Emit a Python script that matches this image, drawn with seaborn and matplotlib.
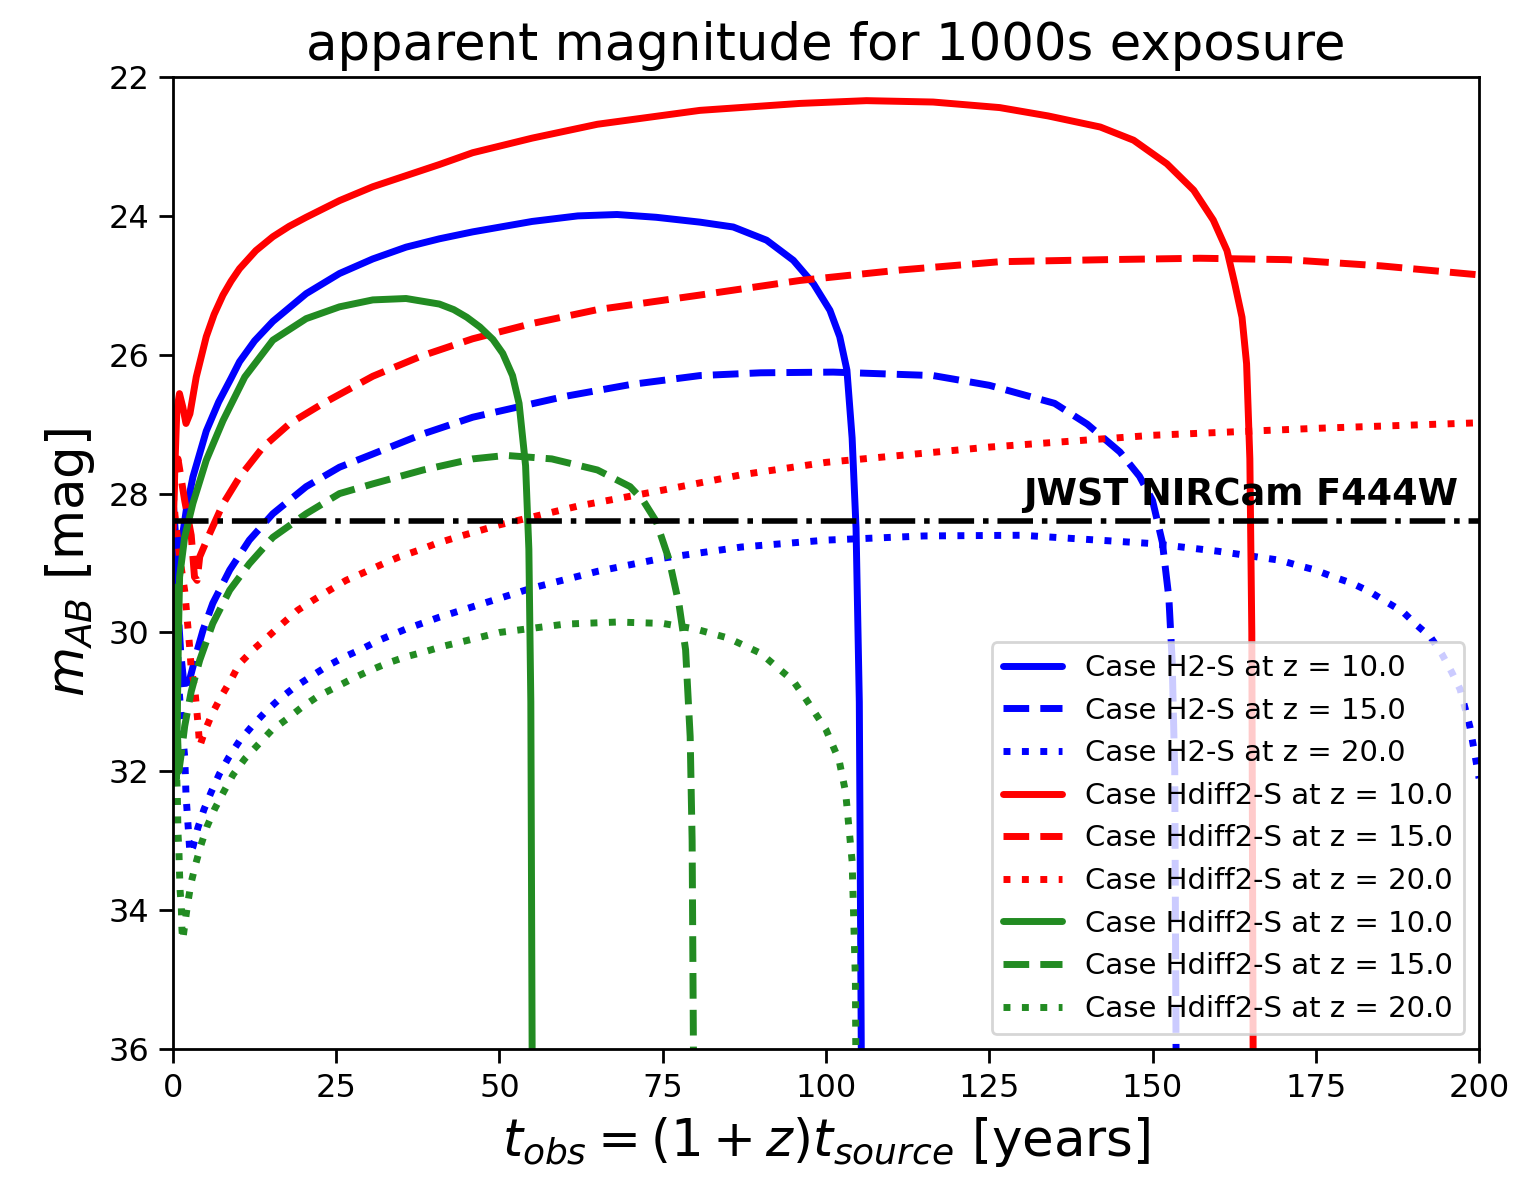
import numpy as np
import pandas as pd
import matplotlib
matplotlib.use("Agg")
import matplotlib.pyplot as plt
import seaborn as sns

# ---------------- data ----------------
# Case H2-S, z = 10 (blue solid)
t_h2_z10 = [0.1, 0.4, 0.6, 0.8, 1.28, 2.04, 3.06, 5.1, 7.0, 8.9, 10.2, 12.5, 15.3, 20.4, 25.5, 30.6,
            35.7, 40.8, 45.9, 55, 62, 68, 74, 80.7, 85.8, 90.9, 95.0, 98.1, 100.6, 102.1, 103.2, 104.0,
            104.6, 105.1, 105.4, 105.5]
m_h2_z10 = [28.2, 28.6, 29.4, 29.2, 28.72, 28.24, 27.76, 27.1, 26.68, 26.34, 26.1, 25.8, 25.52, 25.12,
            24.83, 24.62, 24.45, 24.33, 24.23, 24.08, 24.0, 23.98, 24.02, 24.09, 24.16, 24.35, 24.64,
            24.98, 25.36, 25.74, 26.22, 27.2, 28.5, 31.0, 36.0, 40.0]
# Case H2-S, z = 15 (blue dashed)
t_h2_z15 = [0.05, 0.4, 0.8, 1.2, 1.8, 2.5, 3.6, 4.6, 6.1, 8.7, 11.7, 15.3, 20.4, 25.5, 30.6, 38.3, 45.9,
            52, 60, 70, 80.7, 90, 101.1, 116.4, 125, 135, 140, 145, 148, 150, 151.5, 152.5, 153.0,
            153.4, 153.6, 153.7]
m_h2_z15 = [28.3, 29.0, 29.7, 30.3, 30.85, 30.7, 30.3, 29.97, 29.58, 29.1, 28.67, 28.29, 27.9, 27.62,
            27.43, 27.14, 26.9, 26.77, 26.6, 26.43, 26.3, 26.26, 26.25, 26.3, 26.44, 26.7, 27.0, 27.4,
            27.75, 28.1, 28.7, 29.5, 30.4, 32.0, 36.0, 40.0]
# Case H2-S, z = 20 (blue dotted)
t_h2_z20 = [0.05, 0.3, 0.6, 1.0, 1.5, 1.8, 1.9, 2.0, 2.2, 2.4, 2.6, 3.06, 3.83, 4.75, 5.9, 7.1, 8.6, 10.2,
            12.1, 14.2, 16.3, 18.6, 21.2, 23.7, 26.3, 29.1, 31.6, 35.7, 40.8, 45.9, 55, 65, 75, 87, 100,
            115, 130, 150, 160, 169.5, 172.1, 174.9, 177.7, 180.5, 183.2, 185.8, 188.3, 190.4, 192.6,
            194.3, 195.8, 197.1, 197.8, 198.6, 199.1, 199.6, 200]
m_h2_z20 = [28.5, 29.2, 30.0, 30.9, 31.5, 31.79, 32.05, 32.34, 32.62, 32.89, 33.18, 33.09, 32.81, 32.55,
            32.29, 32.04, 31.79, 31.56, 31.35, 31.14, 30.96, 30.79, 30.63, 30.48, 30.35, 30.23, 30.11,
            29.95, 29.78, 29.63, 29.36, 29.12, 28.93, 28.77, 28.67, 28.61, 28.6, 28.72, 28.83, 28.96,
            29.03, 29.1, 29.2, 29.29, 29.41, 29.56, 29.7, 29.89, 30.07, 30.31, 30.57, 30.82, 31.07,
            31.36, 31.62, 31.89, 32.1]
# Case Hdiff2-S (red), z = 10 (red solid)
t_hd_z10 = [0.05, 0.3, 0.6, 1.0, 1.5, 2.0, 2.6, 3.57, 5.1, 6.3, 7.66, 8.9, 10.2, 12.7, 15.3, 17.8, 20.4,
            25.5, 30.6, 35.7, 40.8, 45.9, 55, 65, 80.7, 96.0, 106.2, 116.4, 126.6, 134, 142.0, 147.1,
            152.2, 156.3, 159.3, 161.4, 162.6, 163.7, 164.4, 164.9, 165.2, 165.4, 165.5]
m_hd_z10 = [28.5, 27.6, 26.8, 26.56, 26.75, 26.99, 26.85, 26.32, 25.74, 25.42, 25.14, 24.94, 24.76, 24.5,
            24.3, 24.15, 24.02, 23.78, 23.58, 23.42, 23.26, 23.09, 22.88, 22.68, 22.48, 22.38, 22.34,
            22.36, 22.44, 22.56, 22.72, 22.91, 23.25, 23.63, 24.06, 24.5, 24.98, 25.46, 26.13, 27.5,
            30.0, 36.0, 40.0]
# Case Hdiff2-S (red), z = 15 (red dashed)
t_hd_z15 = [0.05, 0.3, 0.77, 1.8, 2.8, 3.3, 3.7, 4.1, 5.6, 7.66, 10.2, 13.8, 17.9, 23.0, 30.6, 38, 45.9,
            55, 65, 80.7, 96.0, 111.3, 126.6, 143, 157.3, 170.6, 185, 200]
m_hd_z15 = [28.2, 27.7, 27.5, 28.1, 28.6, 29.2, 29.25, 28.91, 28.58, 28.15, 27.76, 27.33, 26.99, 26.7,
            26.31, 26.02, 25.77, 25.55, 25.35, 25.14, 24.93, 24.78, 24.66, 24.63, 24.61, 24.63, 24.72,
            24.85]
# Case Hdiff2-S (red), z = 20 (red dotted)
t_hd_z20 = [0.05, 0.3, 1.0, 1.8, 2.55, 2.8, 3.3, 3.6, 3.85, 4.1, 4.85, 6.0, 7.4, 8.9, 10.2, 12.5, 14.8,
            16.8, 19.1, 21.4, 24.0, 26.5, 29.4, 32.2, 34.7, 37.5, 40.3, 43.4, 50, 62, 75, 87, 100, 125,
            150, 175, 200]
m_hd_z20 = [28.0, 28.3, 28.9, 29.4, 30.2, 30.52, 30.78, 31.07, 31.33, 31.64, 31.43, 31.17, 30.92, 30.68,
            30.45, 30.23, 30.04, 29.87, 29.68, 29.54, 29.39, 29.25, 29.13, 29.01, 28.91, 28.82, 28.72,
            28.63, 28.45, 28.18, 27.95, 27.73, 27.55, 27.33, 27.16, 27.06, 26.98]
# Case Hdiff2-S (green), z = 10 (green solid)
t_gr_z10 = [0.05, 0.2, 0.4, 0.55, 0.7, 0.85, 1.02, 1.79, 3.06, 5.1, 7.66, 11.0, 15.3, 20.4, 25.5, 30.6,
            35.7, 40.8, 43, 45, 47, 49, 50.5, 52, 53, 54, 54.5, 54.8, 55.0, 55.1]
m_gr_z10 = [29.6, 30.8, 31.8, 32.1, 31.0, 30.0, 29.2, 28.63, 28.14, 27.52, 26.95, 26.32, 25.79, 25.48,
            25.31, 25.21, 25.19, 25.27, 25.35, 25.46, 25.6, 25.78, 25.98, 26.3, 26.7, 27.6, 28.8, 31.0,
            36.0, 40.0]
# Case Hdiff2-S (green), z = 15 (green dashed)
t_gr_z15 = [0.05, 0.3, 0.6, 0.9, 1.2, 1.8, 2.8, 4.1, 6.1, 8.7, 11.7, 15.3, 20.4, 25.5, 30.6, 38.3, 45.9,
            51, 58, 65, 70, 72, 74, 76, 77.5, 78.5, 79.2, 79.5, 79.7, 79.8]
m_gr_z15 = [29.3, 30.3, 31.2, 32.0, 31.8, 31.35, 30.85, 30.4, 29.87, 29.39, 29.01, 28.63, 28.29, 28.0,
            27.86, 27.66, 27.5, 27.45, 27.5, 27.66, 27.9, 28.1, 28.4, 28.96, 29.6, 30.25, 31.5, 33.0,
            36.0, 40.0]
# Case Hdiff2-S (green), z = 20 (green dotted)
t_gr_z20 = [0.05, 0.3, 0.5, 0.66, 0.77, 0.92, 1.0, 1.1, 1.28, 1.38, 1.5, 1.9, 2.3, 2.8, 3.5, 4.3, 5.2,
            6.4, 7.8, 9.2, 11.0, 13.0, 15.1, 17.4, 19.7, 22.2, 24.9, 27.6, 30.1, 32.9, 35.7, 38.5, 41.3,
            44.4, 50, 60, 68, 75, 80, 85, 90, 95, 97, 100, 102, 103, 104, 104.5, 104.8]
m_gr_z20 = [30.0, 31.0, 31.9, 32.3, 32.88, 33.16, 33.44, 33.72, 33.95, 34.28, 34.43, 34.15, 33.88, 33.6,
            33.33, 33.06, 32.8, 32.54, 32.29, 32.05, 31.82, 31.62, 31.41, 31.25, 31.08, 30.92, 30.79,
            30.66, 30.55, 30.44, 30.35, 30.28, 30.2, 30.13, 30.0, 29.88, 29.85, 29.87, 29.95, 30.08, 30.3,
            30.7, 30.97, 31.4, 31.84, 32.3, 33.3, 35.0, 40.0]

labels = ["Case H2-S at z = 10.0", "Case H2-S at z = 15.0", "Case H2-S at z = 20.0",
          "Case Hdiff2-S at z = 10.0", "Case Hdiff2-S at z = 15.0", "Case Hdiff2-S at z = 20.0",
          "Case Hdiff2-S at z = 10.0", "Case Hdiff2-S at z = 15.0", "Case Hdiff2-S at z = 20.0"]
jwst_limit = 28.4
jwst_label = "JWST NIRCam F444W"

curves = [(t_h2_z10, m_h2_z10), (t_h2_z15, m_h2_z15), (t_h2_z20, m_h2_z20),
          (t_hd_z10, m_hd_z10), (t_hd_z15, m_hd_z15), (t_hd_z20, m_hd_z20),
          (t_gr_z10, m_gr_z10), (t_gr_z15, m_gr_z15), (t_gr_z20, m_gr_z20)]
colors = ["blue"] * 3 + ["red"] * 3 + ["forestgreen"] * 3
styles = ["-", "--", ":"] * 3

# ---------------- plotting ----------------
sns.set_style("ticks")
plt.rcParams["font.family"] = ["DejaVu Sans"]
plt.rcParams["mathtext.fontset"] = "dejavusans"
for k in ["text.color", "axes.labelcolor", "xtick.color", "ytick.color", "axes.edgecolor"]:
    plt.rcParams[k] = "black"

fig, ax = plt.subplots(figsize=(7.585, 5.89), dpi=200)
fig.subplots_adjust(left=0.114, right=0.975, top=0.9346, bottom=0.1095)

for (t, m), lab, c, ls in zip(curves, labels, colors, styles):
    df = pd.DataFrame({"t": t, "m": m})
    sns.lineplot(data=df, x="t", y="m", ax=ax, color=c, linestyle=ls, linewidth=2.5,
                 label=lab, sort=False, estimator=None)

ax.axhline(jwst_limit, color="black", linestyle="-.", linewidth=2)
ax.text(196.8, jwst_limit - 0.12, jwst_label, ha="right", va="bottom",
        fontsize=13.2, fontweight="bold")

ax.set_xlim(0, 200)
ax.set_ylim(36, 22)
ax.set_xticks(np.arange(0, 201, 25))
ax.set_yticks(np.arange(22, 37, 2))
ax.tick_params(labelsize=11.5, width=1, length=5, color="black", direction="out")
for s in ax.spines.values():
    s.set_color("black")
    s.set_linewidth(1)

ax.set_title("apparent magnitude for 1000s exposure", fontsize=18.5)
ax.set_xlabel(r"$t_{obs} = (1+z)t_{source}$ [years]", fontsize=18.5)
ax.set_ylabel(r"$m_{AB}$ [mag]", fontsize=18.5)
ax.legend(loc="lower right", fontsize=10.5)

fig.savefig("out.png", dpi=200)
